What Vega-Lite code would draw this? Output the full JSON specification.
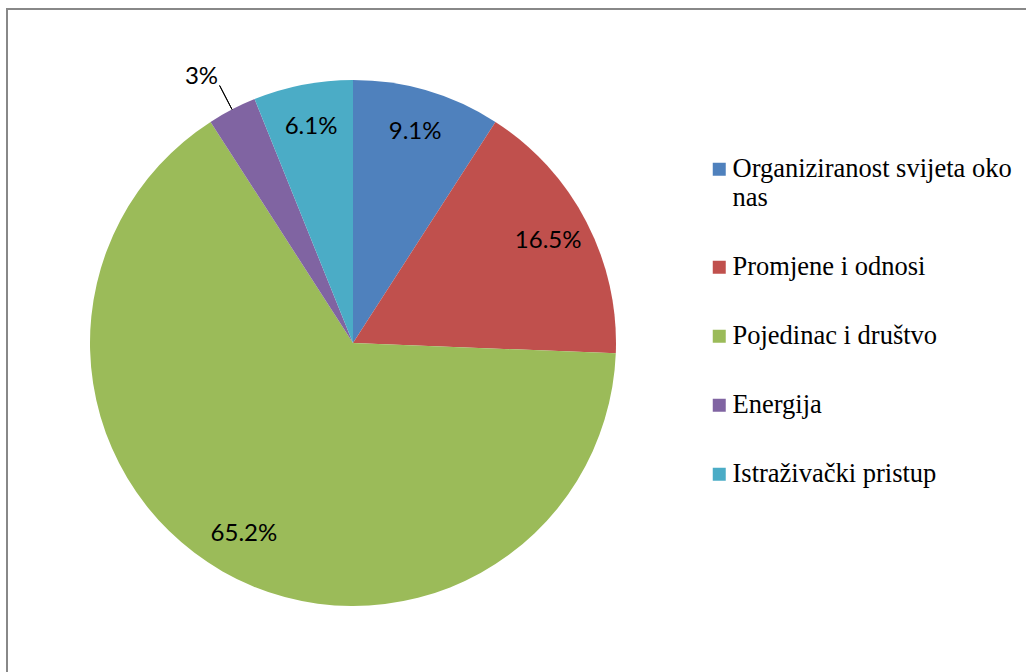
{
  "$schema": "https://vega.github.io/schema/vega-lite/v6.json",
  "width": 1030,
  "height": 670,
  "autosize": "none",
  "padding": {"left": 7, "top": 9, "right": 0, "bottom": 0},
  "background": "white",
  "config": {"view": {"stroke": "#888888", "strokeWidth": 2}},
  "data": {
    "values": [
      {"i": 1, "cat": "Organiziranost svijeta oko nas", "v": 9.1},
      {"i": 2, "cat": "Promjene i odnosi", "v": 16.5},
      {"i": 3, "cat": "Pojedinac i društvo", "v": 65.2},
      {"i": 4, "cat": "Energija", "v": 3},
      {"i": 5, "cat": "Istraživački pristup", "v": 6.1}
    ]
  },
  "transform": [
    {"window": [{"op": "sum", "field": "v", "as": "end"}], "sort": [{"field": "i"}], "frame": [null, 0]},
    {"calculate": "datum.end - datum.v", "as": "start"},
    {"calculate": "(datum.start + datum.end) / 2", "as": "mid"},
    {"calculate": "format(datum.v, '.1~f') + '%'", "as": "lab"}
  ],
  "layer": [
    {
      "mark": {"type": "arc", "radius": 263},
      "encoding": {
        "x": {"value": 346},
        "y": {"value": 334},
        "theta": {"field": "start", "type": "quantitative", "scale": {"domain": [0, 99.9]}, "stack": null},
        "theta2": {"field": "end"},
        "color": {
          "field": "cat",
          "type": "nominal",
          "sort": ["Organiziranost svijeta oko nas", "Promjene i odnosi", "Pojedinac i društvo", "Energija", "Istraživački pristup"],
          "scale": {
            "domain": ["Organiziranost svijeta oko nas", "Promjene i odnosi", "Pojedinac i društvo", "Energija", "Istraživački pristup"],
            "range": ["#4F81BD", "#C0504D", "#9BBB59", "#8064A2", "#4BACC6"]
          },
          "legend": {
            "orient": "none",
            "legendX": 699,
            "legendY": 147,
            "title": null,
            "padding": 0,
            "symbolType": "square",
            "symbolSize": 169,
            "symbolStrokeWidth": 0,
            "labelFont": "Liberation Serif",
            "labelFontSize": 26.5,
            "labelColor": "black",
            "labelOffset": 0,
            "labelLimit": 400,
            "rowPadding": 42,
            "labelExpr": "datum.label == 'Organiziranost svijeta oko nas' ? ['Organiziranost svijeta oko', 'nas'] : datum.label"
          }
        }
      }
    },
    {
      "transform": [{"filter": "datum.cat == 'Energija'"}],
      "mark": {"type": "arc", "radius": 290, "radius2": 263, "stroke": "black", "strokeWidth": 1, "fill": null},
      "encoding": {
        "x": {"value": 346},
        "y": {"value": 334},
        "theta": {"field": "mid", "type": "quantitative", "stack": null},
        "theta2": {"field": "mid"}
      }
    },
    {
      "transform": [{"filter": "datum.cat != 'Energija'"}],
      "mark": {"type": "text", "font": "Lato", "fontSize": 24, "color": "black", "align": "center", "baseline": "middle", "radius": 220},
      "encoding": {
        "x": {"value": 346},
        "y": {"value": 334},
        "theta": {"field": "mid", "type": "quantitative", "stack": null},
        "text": {"field": "lab"}
      }
    },
    {
      "transform": [{"filter": "datum.cat == 'Energija'"}],
      "mark": {"type": "text", "font": "Lato", "fontSize": 24, "color": "black", "align": "center", "baseline": "middle", "radius": 306, "thetaOffset": -0.04},
      "encoding": {
        "x": {"value": 346},
        "y": {"value": 334},
        "theta": {"field": "mid", "type": "quantitative", "stack": null},
        "text": {"field": "lab"}
      }
    }
  ]
}
